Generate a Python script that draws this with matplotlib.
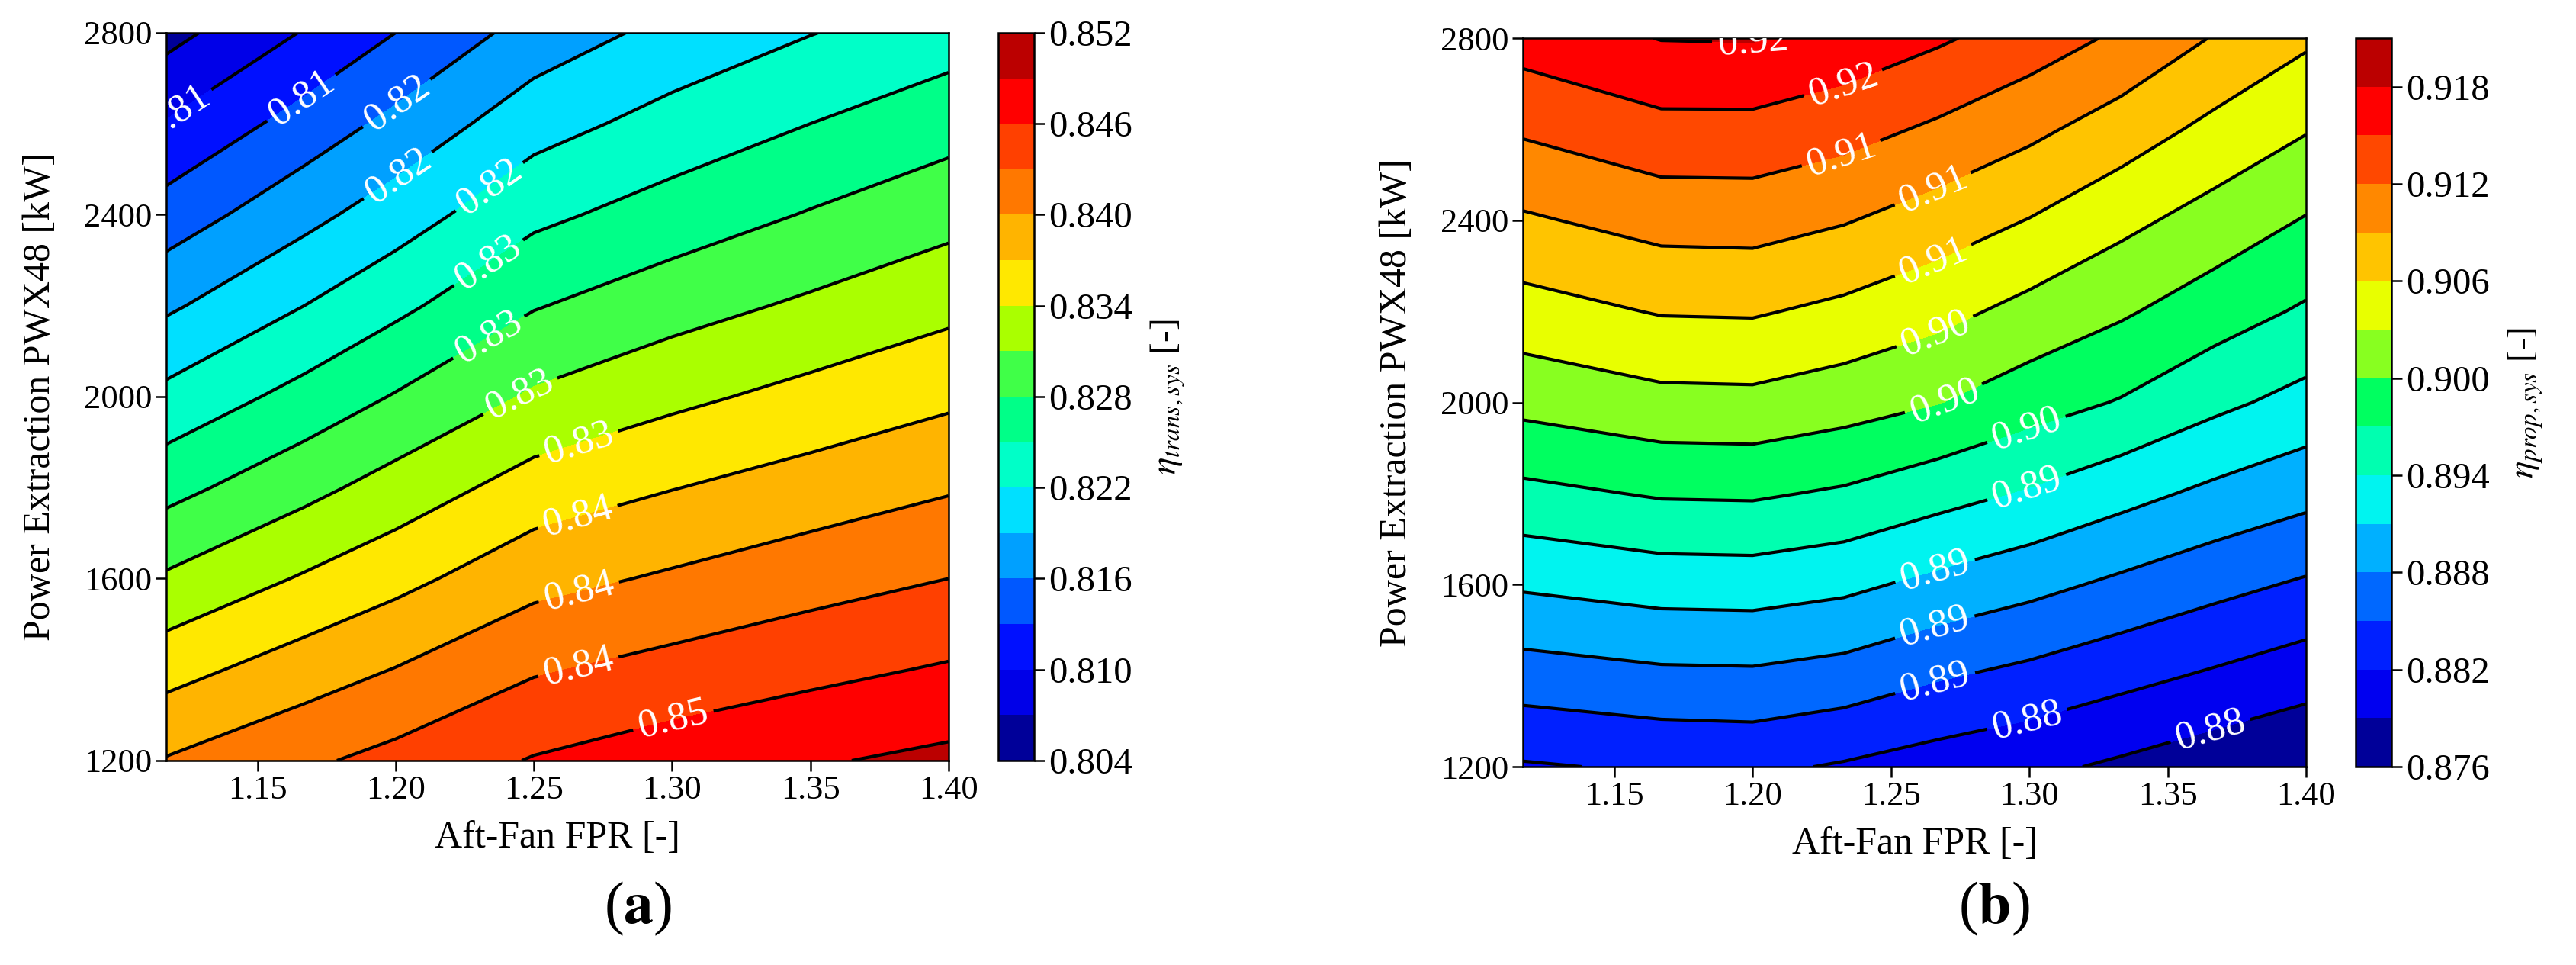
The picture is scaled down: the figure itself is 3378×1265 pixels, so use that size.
# -*- coding: utf-8 -*-
# contour maps: transmission / propulsive efficiency vs aft-fan FPR and power extraction

import numpy as np
import matplotlib
matplotlib.use("Agg")
import matplotlib.pyplot as plt

plt.rcParams["font.family"] = ["Liberation Serif", "DejaVu Serif"]
plt.rcParams["mathtext.fontset"] = "stix"

# ---------------- data ----------------
# (a) transmission efficiency
fpr_a = [1.117, 1.167, 1.20, 1.25, 1.30, 1.35, 1.40]
pwx_a = [1200, 1400, 1600, 1800, 2000, 2200, 2400, 2600, 2800]
eta_trans = [
    [0.8402, 0.8425, 0.8439, 0.8462, 0.8476, 0.8487, 0.8497],
    [0.8359, 0.8385, 0.8401, 0.8427, 0.8440, 0.8452, 0.8463],
    [0.8314, 0.8343, 0.8361, 0.8390, 0.8404, 0.8418, 0.8430],
    [0.8270, 0.8301, 0.8322, 0.8353, 0.8369, 0.8383, 0.8397],
    [0.8228, 0.8260, 0.8282, 0.8314, 0.8333, 0.8349, 0.8364],
    [0.8185, 0.8220, 0.8243, 0.8278, 0.8298, 0.8315, 0.8332],
    [0.8143, 0.8181, 0.8205, 0.8243, 0.8263, 0.8282, 0.8300],
    [0.8102, 0.8142, 0.8168, 0.8208, 0.8231, 0.8250, 0.8268],
    [0.8060, 0.8102, 0.8130, 0.8172, 0.8199, 0.8219, 0.8236],
]
levels_a = [0.804, 0.807, 0.810, 0.813, 0.816, 0.819, 0.822, 0.825, 0.828,
            0.831, 0.834, 0.837, 0.840, 0.843, 0.846, 0.849, 0.852]
cbar_ticks_a = [0.804, 0.810, 0.816, 0.822, 0.828, 0.834, 0.840, 0.846, 0.852]

# (b) propulsive efficiency
fpr_b = [1.117, 1.167, 1.20, 1.233, 1.267, 1.30, 1.333, 1.367, 1.40]
pwx_b = [1200, 1400, 1600, 1800, 2000, 2200, 2400, 2600, 2800]
eta_prop = [
    [0.8817, 0.8824, 0.8826, 0.8817, 0.8806, 0.8797, 0.8785, 0.8772, 0.8761],
    [0.8866, 0.8874, 0.8875, 0.8868, 0.8853, 0.8842, 0.8829, 0.8816, 0.8803],
    [0.8914, 0.8923, 0.8924, 0.8917, 0.8902, 0.8889, 0.8874, 0.8859, 0.8846],
    [0.8962, 0.8973, 0.8974, 0.8966, 0.8951, 0.8937, 0.8920, 0.8903, 0.8889],
    [0.9009, 0.9021, 0.9022, 0.9013, 0.9001, 0.8983, 0.8968, 0.8947, 0.8930],
    [0.9048, 0.9062, 0.9063, 0.9053, 0.9039, 0.9021, 0.9004, 0.8984, 0.8966],
    [0.9086, 0.9101, 0.9102, 0.9092, 0.9076, 0.9059, 0.9038, 0.9018, 0.8998],
    [0.9124, 0.9141, 0.9141, 0.9131, 0.9115, 0.9097, 0.9076, 0.9052, 0.9032],
    [0.9163, 0.9181, 0.9182, 0.9170, 0.9154, 0.9136, 0.9115, 0.9088, 0.9065],
]
levels_b = [0.876, 0.879, 0.882, 0.885, 0.888, 0.891, 0.894, 0.897, 0.900,
            0.903, 0.906, 0.909, 0.912, 0.915, 0.918, 0.921]
cbar_ticks_b = [0.876, 0.882, 0.888, 0.894, 0.900, 0.906, 0.912, 0.918]

x_ticks = [1.15, 1.20, 1.25, 1.30, 1.35, 1.40]
y_ticks = [1200, 1600, 2000, 2400, 2800]

# band colours, bottom -> top
colors_a = ["#000099", "#0000E8", "#0010FF", "#0058FF", "#00A0FF", "#00E0FF",
            "#00FFC8", "#00FF88", "#40FF48", "#AAFF00", "#FFE800", "#FFB400",
            "#FF7800", "#FF4000", "#FF0000", "#BB0000"]
colors_b = ["#000099", "#0000F0", "#0020FF", "#0068FF", "#00B0FF", "#00F4F0",
            "#00FFB0", "#00FF60", "#88FF20", "#E8FF00", "#FFC400", "#FF8800",
            "#FF4800", "#FF0000", "#BB0000"]

# where the inline labels sit (layout only)
label_pos_a = [(1.121, 2624), (1.165, 2665), (1.198, 2665), (1.198, 2510),
               (1.233, 2469), (1.233, 2300), (1.233, 2138), (1.245, 2003),
               (1.266, 1902), (1.266, 1733), (1.266, 1578), (1.266, 1410),
               (1.300, 1301)]
label_pos_b = [(1.200, 2796), (1.233, 2695), (1.232, 2548), (1.265, 2471),
               (1.265, 2316), (1.266, 2154), (1.269, 2007), (1.299, 1940),
               (1.299, 1815), (1.266, 1629), (1.266, 1504), (1.266, 1383),
               (1.299, 1308), (1.365, 1288)]


def fmt_label(v):
    # round half up so 0.825 -> 0.83 like the original
    return "%.2f" % (v + 1e-9)


def contour_panel(fig, ax_rect, cax_rect, x, y, z, levels, colors, ticks,
                  cbar_label, label_pos):
    ax = fig.add_axes(ax_rect)
    cax = fig.add_axes(cax_rect)
    X, Y = np.meshgrid(x, y)
    Z = np.array(z)

    cf = ax.contourf(X, Y, Z, levels=levels, colors=colors)
    cs = ax.contour(X, Y, Z, levels=levels, colors="k", linewidths=3)
    ax.clabel(cs, inline=True, fontsize=38, fmt=fmt_label, colors="white",
              manual=label_pos, inline_spacing=8)

    ax.set_xlim(x[0], x[-1])
    ax.set_ylim(y[0], y[-1])
    ax.set_xticks(x_ticks)
    ax.set_xticklabels(["%.2f" % t for t in x_ticks])
    ax.set_yticks(y_ticks)
    ax.tick_params(labelsize=32, length=10, width=1.8, direction="out")
    for sp in ax.spines.values():
        sp.set_linewidth(1.8)
    ax.set_xlabel("Aft-Fan FPR [-]", fontsize=36, labelpad=14)
    ax.set_ylabel("Power Extraction PWX48 [kW]", fontsize=36, labelpad=24)

    cb = fig.colorbar(cf, cax=cax, ticks=ticks)
    cb.ax.set_yticklabels(["%.3f" % t for t in ticks])
    cb.ax.tick_params(labelsize=35, length=10, width=1.8)
    cb.outline.set_linewidth(1.8)
    cb.set_label(cbar_label, fontsize=34, labelpad=16)
    return ax


def main():
    fig = plt.figure(figsize=(33.78, 12.65), dpi=100)

    contour_panel(fig, [0.0645, 0.2119, 0.3037, 0.7542], [0.3875, 0.2119, 0.0139, 0.7542],
                  fpr_a, pwx_a, eta_trans, levels_a, colors_a, cbar_ticks_a,
                  r"$\eta_{trans,sys}$ [-]", label_pos_a)
    contour_panel(fig, [0.5912, 0.2055, 0.3040, 0.7549], [0.9145, 0.2055, 0.0139, 0.7549],
                  fpr_b, pwx_b, eta_prop, levels_b, colors_b, cbar_ticks_b,
                  r"$\eta_{prop,sys}$ [-]", label_pos_b)

    fig.text(0.2478, 0.058, r"($\mathbf{a}$)", ha="center", va="center", fontsize=56)
    fig.text(0.7740, 0.058, r"($\mathbf{b}$)", ha="center", va="center", fontsize=56)

    fig.savefig("out.png", dpi=100)


if __name__ == "__main__":
    main()
